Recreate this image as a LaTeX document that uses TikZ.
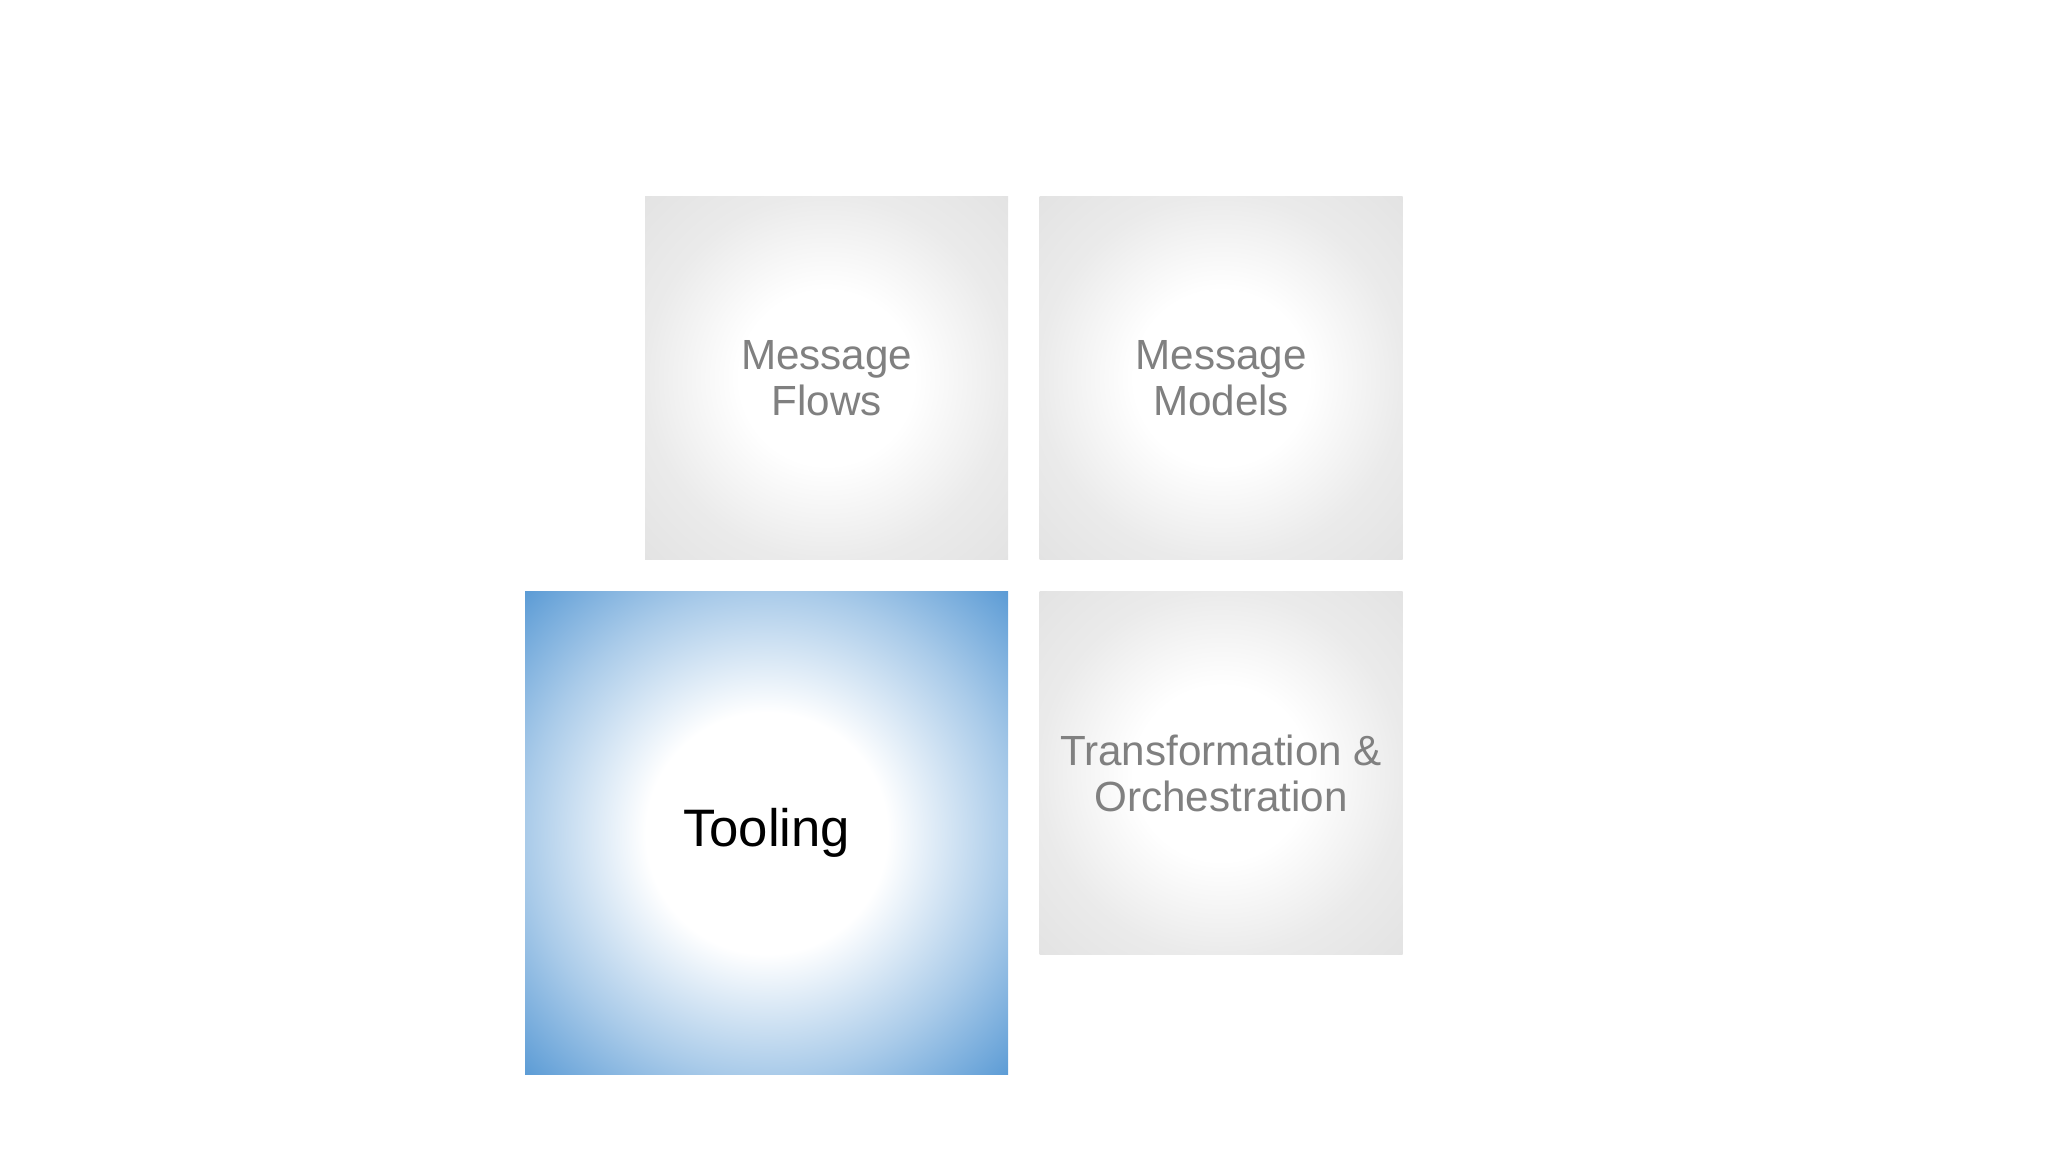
\documentclass[tikz,border=0pt]{standalone}
\usepackage{fontspec}
\setmainfont{Liberation Sans}
\usetikzlibrary{positioning}

\definecolor{tilegrey}{RGB}{128,128,128}
\definecolor{tileblue}{RGB}{91,155,213}
\pgfdeclareradialshading{greyglow}{\pgfpoint{0bp}{0bp}}{color(0bp)=(white); color(12bp)=(white); color(25bp)=(black!8); color(35.5bp)=(black!11)}
\pgfdeclareradialshading{blueglow}{\pgfpoint{0bp}{0bp}}{color(0bp)=(white); color(12.5bp)=(white); color(25bp)=(tileblue!52); color(35.5bp)=(tileblue)}

\begin{document}
\begin{tikzpicture}[node distance=3mm,
  tile/.style={inner sep=0,minimum size=3.63cm,shading=greyglow,align=center,text=tilegrey,font=\fontsize{12}{13}\selectfont},
  bigtile/.style={inner sep=0,minimum size=4.83cm,shading=blueglow,align=center,text=black,font=\fontsize{15}{17}\selectfont}]
\useasboundingbox (0,0) rectangle (20.48,-11.52);

% Nodes
\node[bigtile] (tool) at (7.667,-8.333) {Tooling};
\node[tile,above=3.1mm of tool.north east,anchor=south east] (flows) {Message\\Flows};
\node[tile,right=of flows] (models) {Message\\Models};
\node[tile,below=3.1mm of models] (trans) {Transformation \&\\Orchestration};

\end{tikzpicture}
\end{document}
